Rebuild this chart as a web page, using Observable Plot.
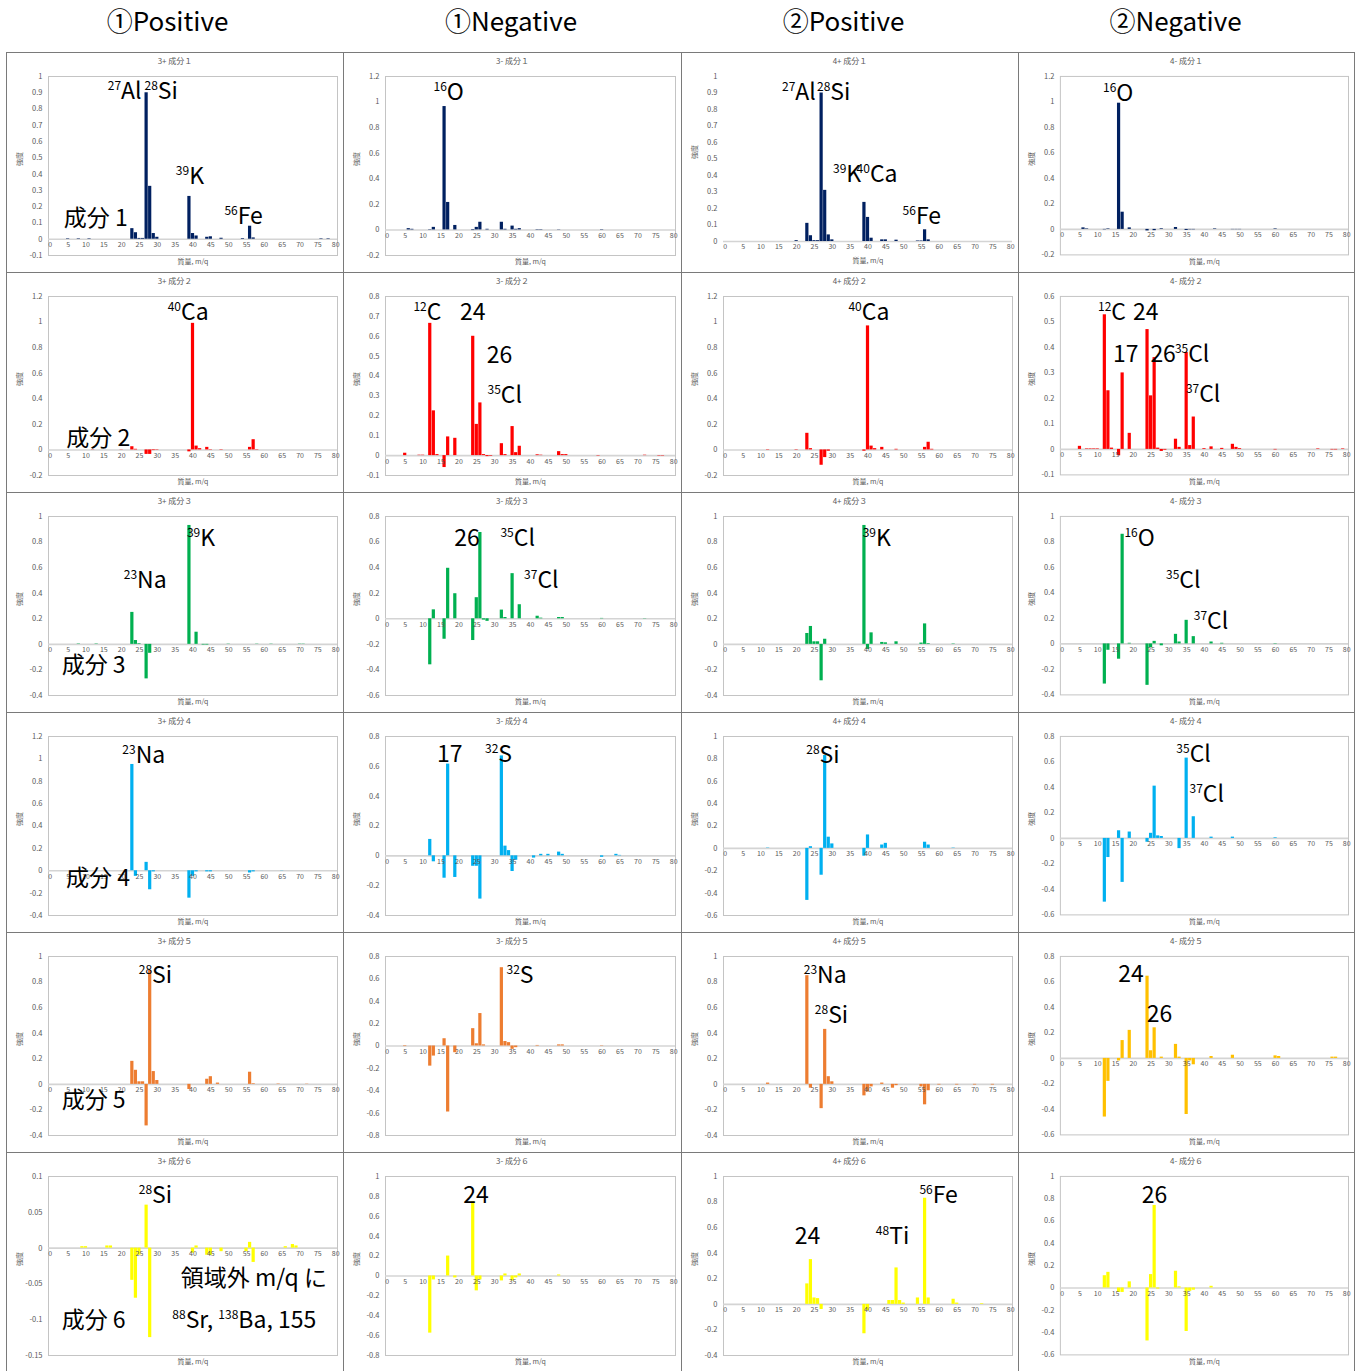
<!DOCTYPE html>
<html><head><meta charset="utf-8">
<script src="https://cdn.jsdelivr.net/npm/d3@7"></script>
<script src="https://cdn.jsdelivr.net/npm/@observablehq/plot@0.6"></script>
<style>
body{margin:0;background:#fff;font-family:"Noto Sans CJK JP","Noto Sans",sans-serif;}
#root{position:relative;width:1364px;height:1371px;overflow:hidden;background:#fff;}
.hdr{position:absolute;top:2px;font-size:26px;line-height:36px;text-align:center;color:#000;}
.cell{position:absolute;border-left:1px solid #7a7a7a;border-top:1px solid #7a7a7a;box-sizing:border-box;background:#fff;}
.cell.last{border-right:1px solid #7a7a7a;}
.ttl{position:absolute;top:2px;left:0;width:100%;text-align:center;font-size:8px;color:#595959;line-height:12px;}
.cell svg{position:absolute;left:0;top:0;}
</style></head><body><div id="root"></div>
<script>
// ---- text ----
const columnHeaders = ["①Positive", "①Negative", "②Positive", "②Negative"];
const panelTitles = [
  ["3+ 成分１", "3- 成分１", "4+ 成分１", "4- 成分１"],
  ["3+ 成分２", "3- 成分２", "4+ 成分２", "4- 成分２"],
  ["3+ 成分３", "3- 成分３", "4+ 成分３", "4- 成分３"],
  ["3+ 成分４", "3- 成分４", "4+ 成分４", "4- 成分４"],
  ["3+ 成分５", "3- 成分５", "4+ 成分５", "4- 成分５"],
  ["3+ 成分６", "3- 成分６", "4+ 成分６", "4- 成分６"]
];
const xTitle = "質量, m/q";
const yTitle = "強度";
const xTicks = [0,5,10,15,20,25,30,35,40,45,50,55,60,65,70,75,80];
// y axis [min, max, step] per panel
const yRanges = [
  [[-0.1,1,0.1],[-0.2,1.2,0.2],[0,1,0.1],[-0.2,1.2,0.2]],
  [[-0.2,1.2,0.2],[-0.1,0.8,0.1],[-0.2,1.2,0.2],[-0.1,0.6,0.1]],
  [[-0.4,1,0.2],[-0.6,0.8,0.2],[-0.4,1,0.2],[-0.4,1,0.2]],
  [[-0.4,1.2,0.2],[-0.4,0.8,0.2],[-0.6,1,0.2],[-0.6,0.8,0.2]],
  [[-0.4,1,0.2],[-0.8,0.8,0.2],[-0.4,1,0.2],[-0.6,0.8,0.2]],
  [[-0.15,0.1,0.05],[-0.8,1,0.2],[-0.4,1,0.2],[-0.6,1,0.2]]
];
const rowColors = [
  ["#002060","#002060","#002060","#002060"],
  ["#ff0000","#ff0000","#ff0000","#ff0000"],
  ["#00b050","#00b050","#00b050","#00b050"],
  ["#00b0f0","#00b0f0","#00b0f0","#00b0f0"],
  ["#ed7d31","#ed7d31","#ed7d31","#ffc000"],
  ["#ffff00","#ffff00","#ffff00","#ffff00"]
];

// ---- spectra: [m/q, intensity] ----
const A1 = [[5,0.003],[8,0.003],[11,0.003],[23,0.065],[24,0.04],[25,0.005],[26,0.005],[27,0.9],[28,0.325],[29,0.035],[30,0.012],[39,0.263],[40,0.035],[41,0.02],[44,0.012],[45,0.015],[48,0.006],[54,0.004],[56,0.08],[57,0.008],[76,0.003],[78,0.003]];
const B1 = [[6,0.01],[7,0.005],[12,-0.003],[13,0.02],[16,0.965],[17,0.215],[19,0.035],[24,-0.005],[25,0.02],[26,0.06],[28,0.005],[32,0.06],[33,0.005],[35,0.03],[36,0.005],[37,0.01],[42,0.003],[43,0.003],[48,0.002],[60,0.003]];
const C1 = [[20,0.005],[23,0.11],[24,0.035],[25,0.005],[26,0.005],[27,0.9],[28,0.31],[29,0.04],[30,0.01],[39,0.237],[40,0.146],[41,0.02],[44,0.01],[45,0.01],[48,0.008],[54,0.003],[55,0.003],[56,0.071],[57,0.01]];
const D1 = [[6,0.012],[7,0.004],[12,-0.003],[13,0.004],[16,0.99],[17,0.135],[19,0.012],[24,-0.012],[26,-0.01],[28,0.005],[32,0.015],[35,-0.008],[36,-0.003],[37,-0.003],[43,0.004],[48,-0.002],[49,-0.002],[50,-0.002],[60,0.004]];

const A2 = [[12,0.002],[20,0.002],[23,0.025],[24,0.005],[27,-0.035],[28,-0.035],[29,-0.005],[30,-0.003],[39,-0.015],[40,0.99],[41,0.03],[42,0.01],[44,0.02],[45,0.003],[48,0.003],[56,0.02],[57,0.08],[58,0.003]];
const B2 = [[5,0.012],[9,0.002],[10,0.002],[12,0.665],[13,0.225],[14,0.005],[16,-0.06],[17,0.094],[19,0.087],[24,0.6],[25,0.157],[26,0.265],[27,0.005],[28,-0.005],[29,-0.003],[32,0.06],[33,0.005],[35,0.146],[36,0.015],[37,0.047],[42,0.004],[43,0.002],[48,0.02],[49,0.005],[50,0.005],[59,-0.002],[72,0.002],[76,-0.002],[77,-0.002]];
const C2 = [[12,0.003],[20,0.003],[23,0.13],[24,0.01],[27,-0.12],[28,-0.06],[29,-0.01],[39,-0.01],[40,0.97],[41,0.03],[42,0.01],[44,0.02],[48,0.005],[56,0.02],[57,0.06],[58,0.005]];
const D2 = [[5,0.012],[7,0.002],[8,0.002],[9,0.002],[10,0.002],[12,0.528],[13,0.23],[14,0.005],[16,-0.025],[17,0.3],[19,0.063],[24,0.47],[25,0.21],[26,0.36],[27,0.005],[28,-0.008],[29,-0.003],[32,0.04],[33,0.008],[35,0.38],[36,0.015],[37,0.127],[40,0.003],[42,0.01],[45,0.004],[48,0.02],[49,0.008],[50,0.003],[60,-0.002],[72,0.002],[76,-0.002],[77,-0.002],[79,0.002]];

const A3 = [[8,0.003],[13,0.003],[23,0.25],[24,0.03],[25,0.005],[27,-0.27],[28,-0.07],[39,0.93],[41,0.095],[43,-0.005],[44,-0.005],[50,0.002],[58,0.002],[62,0.002],[70,0.002],[71,0.002]];
const B3 = [[12,-0.36],[13,0.07],[16,-0.16],[17,0.395],[19,0.196],[24,-0.17],[25,0.165],[26,0.675],[27,-0.01],[28,-0.02],[32,0.068],[33,0.01],[35,0.353],[37,0.11],[42,0.02],[43,0.005],[48,0.01],[49,0.01],[60,0.003],[72,0.002]];
const C3 = [[23,0.085],[24,0.14],[25,0.02],[26,0.02],[27,-0.285],[28,0.04],[39,0.93],[40,-0.04],[41,0.09],[44,0.015],[45,0.012],[48,0.02],[55,0.01],[56,0.16],[57,0.005],[64,0.003]];
const D3 = [[12,-0.315],[13,-0.05],[16,-0.12],[17,0.86],[19,0.005],[24,-0.325],[25,-0.03],[26,0.02],[28,-0.015],[32,0.075],[33,0.015],[35,0.185],[37,0.057],[42,0.015],[45,0.005],[60,0.003]];

const A4 = [[8,0.002],[23,0.95],[24,-0.05],[27,0.075],[28,-0.17],[29,-0.01],[39,-0.245],[40,-0.05],[41,-0.01],[44,-0.01],[45,-0.01],[56,-0.02],[57,-0.01],[65,0.002]];
const B4 = [[12,0.11],[13,-0.04],[16,-0.15],[17,0.615],[19,-0.145],[24,-0.07],[25,-0.07],[26,-0.29],[32,0.67],[33,0.065],[34,0.035],[35,-0.105],[36,-0.03],[41,-0.015],[43,0.01],[45,0.01],[48,0.025],[49,0.01],[60,-0.01],[64,0.01],[65,0.003]];
const C4 = [[12,0.003],[23,-0.465],[24,0.015],[27,-0.24],[28,0.83],[29,0.1],[30,0.04],[39,-0.07],[40,0.12],[44,0.03],[45,0.045],[56,0.055],[57,0.03],[64,0.003]];
const D4 = [[12,-0.5],[13,-0.15],[16,0.06],[17,-0.345],[19,0.05],[24,-0.03],[25,0.04],[26,0.41],[27,0.02],[28,0.015],[33,-0.08],[35,0.63],[37,0.17],[42,0.01],[48,0.01],[60,0.005]];

const A5 = [[23,0.18],[24,0.11],[25,0.02],[26,0.02],[27,-0.325],[28,0.89],[29,0.1],[30,0.03],[39,-0.04],[44,0.04],[45,0.06],[47,0.01],[56,0.095],[57,0.005],[64,0.003],[72,0.002]];
const B5 = [[5,-0.005],[12,-0.18],[13,-0.09],[16,0.065],[17,-0.59],[19,-0.06],[24,0.155],[25,0.02],[26,0.29],[27,0.01],[32,0.70],[33,0.04],[34,0.03],[35,-0.03],[36,-0.015],[42,0.005],[48,0.01],[49,0.01],[60,0.003]];
const C5 = [[12,0.01],[23,0.85],[24,-0.03],[27,-0.19],[28,0.43],[29,0.06],[30,0.02],[39,-0.09],[40,-0.06],[41,-0.02],[44,0.01],[47,-0.03],[48,-0.01],[55,-0.02],[56,-0.16],[57,-0.05],[60,-0.005],[65,-0.005],[70,-0.005],[75,-0.005]];
const D5 = [[12,-0.46],[13,-0.18],[16,-0.02],[17,0.14],[19,0.22],[24,0.645],[25,0.06],[26,0.24],[28,0.01],[32,0.11],[33,0.01],[35,-0.44],[36,-0.02],[37,-0.05],[42,0.015],[48,0.025],[60,0.02],[61,0.015],[76,0.01],[77,0.01]];

const A6 = [[9,0.002],[10,0.002],[16,0.003],[17,0.003],[23,-0.045],[24,-0.07],[25,-0.01],[27,0.06],[28,-0.125],[40,-0.007],[41,0.003],[44,-0.01],[45,-0.01],[48,-0.005],[55,-0.005],[56,0.008],[57,-0.02],[66,0.002],[68,0.005],[69,0.003]];
const B6 = [[12,-0.575],[13,-0.04],[17,0.2],[19,-0.02],[24,0.745],[25,-0.15],[26,-0.04],[32,-0.05],[33,0.02],[35,-0.05],[36,-0.02],[37,0.02],[48,0.01]];
const C6 = [[23,0.16],[24,0.35],[25,0.05],[26,0.045],[27,-0.04],[39,-0.23],[40,-0.05],[46,0.03],[47,0.03],[48,0.285],[49,0.03],[50,0.01],[54,0.05],[56,0.83],[57,0.05],[64,0.04],[65,0.01],[72,0.005]];
const D6 = [[12,0.11],[13,0.14],[16,-0.04],[17,-0.04],[19,0.055],[24,-0.475],[25,0.12],[26,0.74],[27,-0.01],[32,0.15],[33,0.01],[35,-0.39],[36,-0.03],[37,-0.02],[42,0.015]];

// ---- annotations: [m/q, intensity at baseline, text]  (^nn = superscript) ----
const annA1 = [[16.1,0.863,"^27Al"],[26.4,0.863,"^28Si"],[35.2,0.342,"^39K"],[48.8,0.093,"^56Fe"],[3.8,0.08,"成分 1"]];
const annB1 = [[12.9,1.017,"^16O"]];
const annC1 = [[15.9,0.858,"^27Al"],[25.7,0.858,"^28Si"],[30.2,0.359,"^39K"],[36.8,0.359,"^40Ca"],[49.7,0.107,"^56Fe"]];
const annD1 = [[11.5,1.01,"^16O"]];
const annA2 = [[32.9,1.017,"^40Ca"],[4.5,0.03,"成分 2"]];
const annB2 = [[7.3,0.68,"^12C"],[20.3,0.68,"24"],[27.8,0.467,"26"],[28.0,0.266,"^35Cl"]];
const annC2 = [[34.5,1.02,"^40Ca"]];
const annD2 = [[10.1,0.508,"^12C"],[19.9,0.508,"24"],[14.3,0.342,"17"],[24.8,0.342,"26"],[31.7,0.342,"^35Cl"],[34.8,0.185,"^37Cl"]];
const annA3 = [[38.3,0.77,"^39K"],[20.6,0.44,"^23Na"],[3.2,-0.225,"成分 3"]];
const annB3 = [[18.7,0.57,"26"],[31.6,0.57,"^35Cl"],[38.2,0.243,"^37Cl"]];
const annC3 = [[38.5,0.77,"^39K"]];
const annD3 = [[17.5,0.77,"^16O"],[29.2,0.44,"^35Cl"],[37.0,0.115,"^37Cl"]];
const annA4 = [[20.2,0.966,"^23Na"],[4.4,-0.135,"成分 4"]];
const annB4 = [[13.9,0.626,"17"],[27.3,0.626,"^32S"]];
const annC4 = [[22.7,0.766,"^28Si"]];
const annD4 = [[32.1,0.597,"^35Cl"],[35.8,0.283,"^37Cl"]];
const annA5 = [[24.8,0.796,"^28Si"],[3.2,-0.186,"成分 5"]];
const annB5 = [[33.3,0.567,"^32S"]];
const annC5 = [[22,0.796,"^23Na"],[25.1,0.48,"^28Si"]];
const annD5 = [[15.8,0.597,"24"],[23.8,0.283,"26"]];
const annA6 = [[24.8,0.0636,"^28Si"],[36.6,-0.053,"領域外 m/q に"],[3.2,-0.112,"成分 6"],[34.2,-0.112,"^88Sr, ^138Ba, 155"]];
const annB6 = [[21.2,0.737,"24"]];
const annC6 = [[54.4,0.796,"^56Fe"],[19.5,0.469,"24"],[42.2,0.469,"^48Ti"]];
const annD6 = [[22.4,0.766,"26"]];

const spectra = [[A1,B1,C1,D1],[A2,B2,C2,D2],[A3,B3,C3,D3],[A4,B4,C4,D4],[A5,B5,C5,D5],[A6,B6,C6,D6]];
const annotations = [[annA1,annB1,annC1,annD1],[annA2,annB2,annC2,annD2],[annA3,annB3,annC3,annD3],[annA4,annB4,annC4,annD4],[annA5,annB5,annC5,annD5],[annA6,annB6,annC6,annD6]];

// ---- layout ----
const colLefts = [6,343,681,1018], colWidths = [337,338,337,337];
const headerShift = [-7,-1,-6,-11];
const rowTops = [52,272,492,712,932,1152], rowH = 220;
const FONT = "'Noto Sans CJK JP','Noto Sans',sans-serif";
const root = document.getElementById("root");

columnHeaders.forEach((h,c)=>{
  const d = document.createElement("div");
  d.className = "hdr";
  d.style.left = (colLefts[c]+headerShift[c]) + "px";
  d.style.width = colWidths[c] + "px";
  d.textContent = h;
  root.appendChild(d);
});

function applySup(svg){
  d3.select(svg).selectAll("text").each(function(){
    const t = this.textContent;
    if (!t.includes("^")) return;
    const sel = d3.select(this);
    sel.text(null);
    const parts = t.split(/(\^\d+)/).filter(s=>s.length);
    let shifted = false;
    for (const p of parts){
      if (p[0] === "^"){
        sel.append("tspan").attr("font-size", 12).attr("dy", shifted ? 0 : -9).text(p.slice(1));
        shifted = true;
      } else {
        sel.append("tspan").attr("dy", shifted ? 9 : 0).text(p);
        shifted = false;
      }
    }
  });
}

function fmt(v){ return String(+v.toFixed(3)); }

for (let r=0;r<6;r++){
  for (let c=0;c<4;c++){
    const cell = document.createElement("div");
    cell.className = "cell" + (c===3 ? " last" : "");
    cell.style.left = colLefts[c] + "px";
    cell.style.top = rowTops[r] + "px";
    cell.style.width = colWidths[c] + "px";
    cell.style.height = rowH + "px";
    root.appendChild(cell);

    const [y0,y1,step] = yRanges[r][c];
    const n = Math.round((y1-y0)/step);
    const yTicks = d3.range(n+1).map(i=>+(y0+i*step).toFixed(3));
    const bars = spectra[r][c].map(([m,v])=>({m,v}));
    const ann = annotations[r][c].map(([m,v,t])=>({m,v,t}));
    const noFrame = (y0 === 0);
    const color = rowColors[r][c];

    const plot = Plot.plot({
      width: colWidths[c]-1, height: rowH-1,
      marginLeft: 41, marginRight: 6, marginTop: 23, marginBottom: noFrame ? 31 : 17,
      x: {domain: [-0.5, 80.5], axis: null},
      y: {domain: [y0, y1], axis: null},
      style: {fontFamily: FONT, background: "transparent", overflow: "visible"},
      marks: [
        noFrame ? null : Plot.frame({stroke: "#c4c4c4"}),
        Plot.ruleY([0], {stroke: "#d4d4d4", strokeWidth: 1.6}),
        Plot.rect(bars, {x1: d=>d.m-0.45, x2: d=>d.m+0.45, y1: 0, y2: "v", fill: color}),
        Plot.axisY(yTicks, {tickSize: 0, tickPadding: 6, tickFormat: fmt, fontSize: 7.5, fill: "#595959", label: null}),
        Plot.text(xTicks, {x: d=>d, y: 0, dy: 3, lineAnchor: "top", fontSize: 7, fill: "#595959", text: d=>String(d)}),
        Plot.text([yTitle], {frameAnchor: "left", rotate: -90, dx: -29, fontSize: 7, fill: "#595959"}),
        Plot.text([xTitle], {frameAnchor: "bottom", dy: noFrame ? 17 : 4, lineAnchor: "top", fontSize: 7, fill: "#595959"}),
        Plot.text(ann, {x: "m", y: "v", text: "t", textAnchor: "start", lineAnchor: "bottom", fontSize: 23, fill: "#000"})
      ]
    });
    applySup(plot);
    cell.appendChild(plot);

    const ttl = document.createElement("div");
    ttl.className = "ttl";
    ttl.textContent = panelTitles[r][c];
    cell.appendChild(ttl);
  }
}
</script></body></html>
